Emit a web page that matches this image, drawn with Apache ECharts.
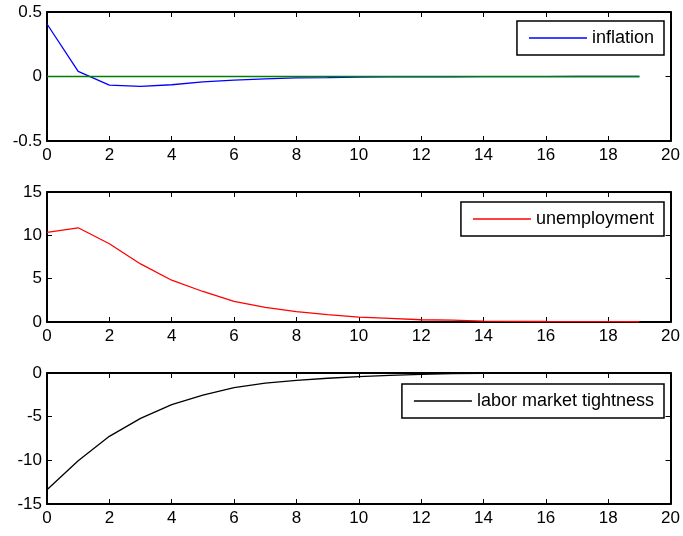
<!DOCTYPE html>
<html>
<head>
<meta charset="utf-8">
<script src="https://cdn.jsdelivr.net/npm/echarts@6/dist/echarts.min.js"></script>
<style>
html,body{margin:0;padding:0;background:#fff;}
#chart{width:683px;height:536px;}
</style>
</head>
<body>
<div id="chart"></div>
<script>
var periods = [0,1,2,3,4,5,6,7,8,9,10,11,12,13,14,15,16,17,18,19];
var inflation = [0.407,0.039,-0.067,-0.077,-0.064,-0.041,-0.028,-0.018,-0.010,-0.008,-0.004,-0.003,-0.002,-0.002,-0.001,-0.001,-0.001,0,0,0];
var zeroLine = [0,0,0,0,0,0,0,0,0,0,0,0,0,0,0,0,0,0,0,0];
var unemployment = [10.33,10.87,9.03,6.7,4.82,3.52,2.37,1.68,1.19,0.84,0.57,0.42,0.26,0.22,0.1,0.08,0.06,0.05,0.04,0.03];
var tightness = [-13.36,-10.04,-7.25,-5.19,-3.63,-2.52,-1.68,-1.15,-0.84,-0.6,-0.42,-0.28,-0.16,-0.08,-0.05,-0.03,-0.02,-0.01,-0.01,-0.005];
var xTicks = {min:0, max:20, interval:2};
var yRanges = [
  {min:-0.5, max:0.5, interval:0.5},
  {min:0, max:15, interval:5},
  {min:-15, max:0, interval:5}
];
var names = ['inflation','unemployment','labor market tightness'];
var colors = ['#0000ff','#ff0000','#000000'];

function pairs(ys){ return periods.map(function(p,i){ return [p, ys[i]]; }); }

var FONT = "'Liberation Sans', Arial, sans-serif";
var grids = [
  {left:47, top:12, width:625, height:129},
  {left:47, top:192, width:625, height:130},
  {left:47, top:373, width:625, height:131}
];
var legendTops = [21, 202, 384];

var xAxes = [], yAxes = [], legends = [];
grids.forEach(function(g, i){
  var axLine = {show:true, onZero:false, lineStyle:{color:'#000', width:2}};
  var tick = {show:true, inside:true, length:5, lineStyle:{color:'#000', width:1}};
  xAxes.push({type:'value', gridIndex:i, position:'bottom', min:xTicks.min, max:xTicks.max, interval:xTicks.interval,
    axisLine:axLine, axisTick:tick, splitLine:{show:false},
    axisLabel:{show:true, color:'#000', fontSize:17, fontFamily:FONT, margin:6}});
  xAxes.push({type:'value', gridIndex:i, position:'top', min:xTicks.min, max:xTicks.max, interval:xTicks.interval,
    axisLine:axLine, axisTick:tick, splitLine:{show:false}, axisLabel:{show:false}});
  var r = yRanges[i];
  yAxes.push({type:'value', gridIndex:i, position:'left', min:r.min, max:r.max, interval:r.interval,
    axisLine:axLine, axisTick:tick, splitLine:{show:false},
    axisLabel:{show:true, color:'#000', fontSize:17, fontFamily:FONT, margin:5, padding:[0,0,4,0]}});
  yAxes.push({type:'value', gridIndex:i, position:'right', min:r.min, max:r.max, interval:r.interval,
    axisLine:axLine, axisTick:tick, splitLine:{show:false}, axisLabel:{show:false}});
  legends.push({data:[names[i]], right:19, top:legendTops[i], orient:'horizontal',
    icon:'rect', itemWidth:58, itemHeight:1.4, itemGap:0,
    padding:[8,10,8,12], borderColor:'#000', borderWidth:1.5, borderRadius:0, backgroundColor:'#fff',
    textStyle:{color:'#000', fontSize:18, fontFamily:FONT}, selectedMode:false});
});

var lineCommon = {type:'line', symbol:'none', showSymbol:false, animation:false, z:3};
var series = [
  Object.assign({}, lineCommon, {name:names[0], xAxisIndex:0, yAxisIndex:0, data:pairs(inflation), itemStyle:{color:colors[0]}, lineStyle:{color:colors[0], width:1.3}}),
  Object.assign({}, lineCommon, {name:'zero', xAxisIndex:0, yAxisIndex:0, data:pairs(zeroLine), itemStyle:{color:'#008000'}, lineStyle:{color:'#008000', width:1.3}}),
  Object.assign({}, lineCommon, {name:names[1], xAxisIndex:2, yAxisIndex:2, data:pairs(unemployment), itemStyle:{color:colors[1]}, lineStyle:{color:colors[1], width:1.3}}),
  Object.assign({}, lineCommon, {name:names[2], xAxisIndex:4, yAxisIndex:4, data:pairs(tightness), itemStyle:{color:colors[2]}, lineStyle:{color:colors[2], width:1.3}})
];

var chart = echarts.init(document.getElementById('chart'), null, {renderer:'canvas'});
chart.setOption({
  animation:false,
  backgroundColor:'#fff',
  grid:grids,
  xAxis:xAxes,
  yAxis:yAxes,
  legend:legends,
  series:series
});
</script>
</body>
</html>
